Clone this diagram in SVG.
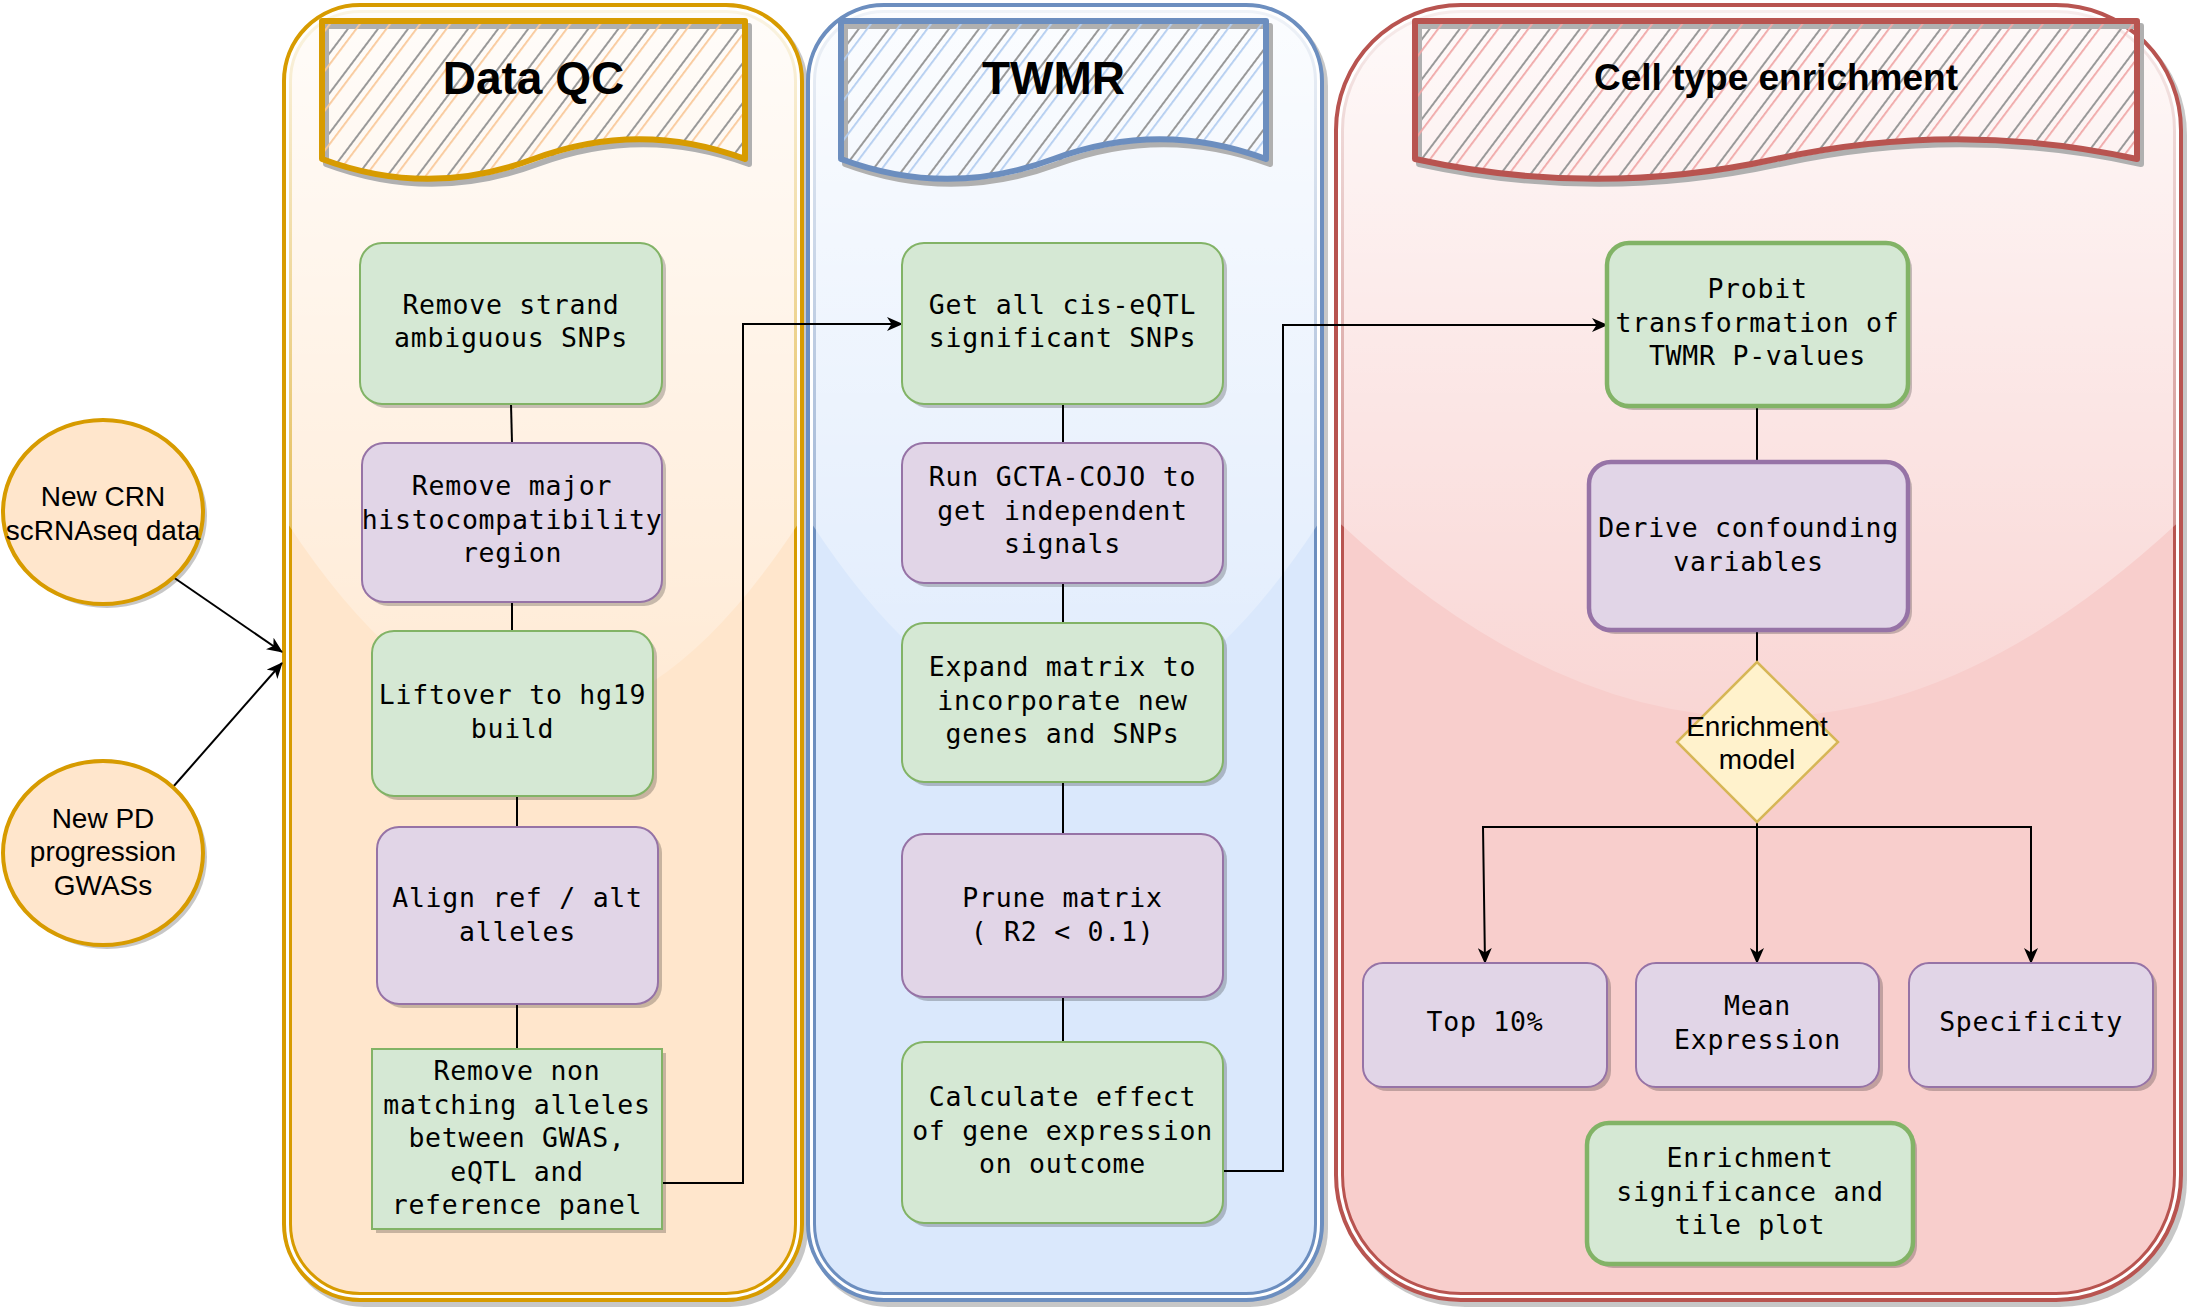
<svg xmlns="http://www.w3.org/2000/svg" width="2190" height="1312" viewBox="0 0 2190 1312">
<defs>
<style>
.sh{fill:#000;fill-opacity:.22}
.g{fill:#d5e8d4;stroke:#82b366;stroke-width:2}
.p{fill:#e1d5e7;stroke:#9673a6;stroke-width:2}
.gt{fill:#d5e8d4;stroke:#82b366;stroke-width:4.5}
.pt{fill:#e1d5e7;stroke:#9673a6;stroke-width:4.5}
.m{font-family:"DejaVu Sans Mono",monospace;font-size:26.5px;letter-spacing:0.75px;text-anchor:middle;fill:#000}
.s{font-family:"Liberation Sans",Arial,sans-serif;font-size:28px;text-anchor:middle;fill:#000}
.h{font-family:"Liberation Sans",Arial,sans-serif;font-weight:bold;text-anchor:middle;fill:#000}
.c{fill:none;stroke:#000;stroke-width:2}
.base{fill:#fff}
.glass{fill:url(#glass)}
</style>
<linearGradient id="glass" gradientUnits="userSpaceOnUse" x1="0" y1="3" x2="0" y2="782">
<stop offset="0" stop-color="#fff" stop-opacity="0.9"/>
<stop offset="1" stop-color="#fff" stop-opacity="0.1"/>
</linearGradient>
<pattern id="hG" patternUnits="userSpaceOnUse" width="24" height="24" patternTransform="rotate(37)"><rect x="0" y="0" width="2" height="24" fill="#999"/></pattern>
<pattern id="hQ" patternUnits="userSpaceOnUse" width="24" height="24" patternTransform="rotate(37) translate(13,0)"><rect x="0" y="0" width="1.8" height="24" fill="#f9c99a"/></pattern>
<pattern id="hT" patternUnits="userSpaceOnUse" width="24" height="24" patternTransform="rotate(37) translate(13,0)"><rect x="0" y="0" width="1.8" height="24" fill="#b3cdf0"/></pattern>
<pattern id="hC" patternUnits="userSpaceOnUse" width="24" height="24" patternTransform="rotate(37) translate(13,0)"><rect x="0" y="0" width="1.8" height="24" fill="#f0a8a8"/></pattern>
<marker id="arr" markerWidth="16" markerHeight="14" refX="15" refY="7" orient="auto" markerUnits="userSpaceOnUse"><path d="M0,0 L16,7 L0,14 L4.5,7 Z" fill="#000"/></marker>
</defs>

<g id="container-dataqc">
<rect class="sh" x="286" y="8" width="522" height="1299" rx="78"/>
<rect class="base" x="284" y="5" width="518" height="1295" rx="76"/>
<rect x="290.5" y="11.5" width="505" height="1282" rx="69.5" fill="#ffe6cc" stroke="#d79b00" stroke-width="3"/>
<path class="glass" d="M360,8 A73,73 0 0 0 287,81 L287,522.6 Q543,912.3 799,522.6 L799,81 A73,73 0 0 0 726,8 Z"/>
<rect x="284" y="5" width="518" height="1295" rx="76" fill="none" stroke="#d79b00" stroke-width="4"/>
</g>
<g id="container-twmr">
<rect class="sh" x="810" y="8" width="518" height="1299" rx="78"/>
<rect class="base" x="808" y="5" width="514" height="1295" rx="76"/>
<rect x="814.5" y="11.5" width="501" height="1282" rx="69.5" fill="#dae8fc" stroke="#6c8ebf" stroke-width="3"/>
<path class="glass" d="M884,8 A73,73 0 0 0 811,81 L811,522.6 Q1065,912.3 1319,522.6 L1319,81 A73,73 0 0 0 1246,8 Z"/>
<rect x="808" y="5" width="514" height="1295" rx="76" fill="none" stroke="#6c8ebf" stroke-width="4"/>
</g>
<g id="container-celltype">
<rect class="sh" x="1338" y="8" width="849" height="1299" rx="127"/>
<rect class="base" x="1336" y="5" width="845" height="1295" rx="125"/>
<rect x="1342.5" y="11.5" width="832" height="1282" rx="118.5" fill="#f8cecc" stroke="#b85450" stroke-width="3"/>
<path class="glass" d="M1461,8 A122,122 0 0 0 1339,130 L1339,522.6 Q1758.5,912.3 2178,522.6 L2178,130 A122,122 0 0 0 2056,8 Z"/>
<rect x="1336" y="5" width="845" height="1295" rx="125" fill="none" stroke="#b85450" stroke-width="4"/>
</g>

<g id="header-dataqc">
<path transform="translate(4,5)" d="M322,21 H745 V159 Q639.25,119.4 533.5,159 Q427.75,198.6 322,159 Z" fill="url(#hG)" stroke="#b0b0b0" stroke-width="6" stroke-linejoin="round"/>
<path d="M322,21 H745 V159 Q639.25,119.4 533.5,159 Q427.75,198.6 322,159 Z" fill="url(#hQ)" stroke="#d79b00" stroke-width="6" stroke-linejoin="round"/>
<text class="h" x="533.5" y="94" font-size="46">Data QC</text>
</g>
<g id="header-twmr">
<path transform="translate(4,5)" d="M841,21 H1266 V159 Q1159.75,119.4 1053.5,159 Q947.25,198.6 841,159 Z" fill="url(#hG)" stroke="#b0b0b0" stroke-width="6" stroke-linejoin="round"/>
<path d="M841,21 H1266 V159 Q1159.75,119.4 1053.5,159 Q947.25,198.6 841,159 Z" fill="url(#hT)" stroke="#6c8ebf" stroke-width="6" stroke-linejoin="round"/>
<text class="h" x="1053.5" y="94" font-size="46">TWMR</text>
</g>
<g id="header-celltype">
<path transform="translate(4,5)" d="M1415,21 H2137 V159 Q1956.5,119.4 1776,159 Q1595.5,198.6 1415,159 Z" fill="url(#hG)" stroke="#b0b0b0" stroke-width="6" stroke-linejoin="round"/>
<path d="M1415,21 H2137 V159 Q1956.5,119.4 1776,159 Q1595.5,198.6 1415,159 Z" fill="url(#hC)" stroke="#b85450" stroke-width="6" stroke-linejoin="round"/>
<text class="h" x="1776" y="90" font-size="37">Cell type enrichment</text>
</g>

<g id="connectors">
<path class="c" d="M173,577 L282,652" marker-end="url(#arr)"/>
<path class="c" d="M173,787 L282,663" marker-end="url(#arr)"/>
<path class="c" d="M511,404 L512,443"/>
<path class="c" d="M512,602 L512,631"/>
<path class="c" d="M517,796 L517,827"/>
<path class="c" d="M517,1004 L517,1049"/>
<path class="c" d="M662,1183 H743 V324 H902" marker-end="url(#arr)"/>
<path class="c" d="M1063,404 V443"/>
<path class="c" d="M1063,583 V623"/>
<path class="c" d="M1063,782 V834"/>
<path class="c" d="M1063,997 V1042"/>
<path class="c" d="M1223,1171 H1283 V325 H1607" marker-end="url(#arr)"/>
<path class="c" d="M1757,406 V462"/>
<path class="c" d="M1757,630 V662"/>
<path class="c" d="M1757,822 V827 H1483 L1485,963" marker-end="url(#arr)"/>
<path class="c" d="M1757,822 V963" marker-end="url(#arr)" stroke-width="2.5"/>
<path class="c" d="M1757,827 H2031 V963" marker-end="url(#arr)"/>
</g>

<g id="node-crn">
<ellipse class="sh" cx="107" cy="516" rx="100" ry="92"/>
<ellipse cx="103" cy="512" rx="100" ry="92" fill="#ffe6cc" stroke="#d79b00" stroke-width="4"/>
<text class="s" x="103" y="506">New CRN</text>
<text class="s" x="103" y="539.5">scRNAseq data</text>
</g>
<g id="node-pd">
<ellipse class="sh" cx="107" cy="857" rx="100" ry="92"/>
<ellipse cx="103" cy="853" rx="100" ry="92" fill="#ffe6cc" stroke="#d79b00" stroke-width="4"/>
<text class="s" x="103" y="828">New PD</text>
<text class="s" x="103" y="861">progression</text>
<text class="s" x="103" y="895">GWASs</text>
</g>

<g id="node-strand">
<rect class="sh" x="364" y="247" width="302" height="161" rx="22"/>
<rect class="g" x="360" y="243" width="302" height="161" rx="22"/>
<text class="m" x="511" y="313.75">Remove strand</text>
<text class="m" x="511" y="347.25">ambiguous SNPs</text>
</g>
<g id="node-mhc">
<rect class="sh" x="366" y="447" width="300" height="159" rx="22"/>
<rect class="p" x="362" y="443" width="300" height="159" rx="22"/>
<text class="m" x="512" y="495">Remove major</text>
<text class="m" x="512" y="528.5">histocompatibility</text>
<text class="m" x="512" y="562">region</text>
</g>
<g id="node-liftover">
<rect class="sh" x="376" y="635" width="281" height="165" rx="22"/>
<rect class="g" x="372" y="631" width="281" height="165" rx="22"/>
<text class="m" x="512.5" y="704">Liftover to hg19</text>
<text class="m" x="512.5" y="737.5">build</text>
</g>
<g id="node-align">
<rect class="sh" x="381" y="831" width="281" height="177" rx="22"/>
<rect class="p" x="377" y="827" width="281" height="177" rx="22"/>
<text class="m" x="517.5" y="907">Align ref / alt</text>
<text class="m" x="517.5" y="940.5">alleles</text>
</g>
<g id="node-nonmatch">
<rect class="sh" x="376" y="1053" width="290" height="180"/>
<rect class="g" x="372" y="1049" width="290" height="180"/>
<text class="m" x="517" y="1080">Remove non</text>
<text class="m" x="517" y="1113.5">matching alleles</text>
<text class="m" x="517" y="1147">between GWAS,</text>
<text class="m" x="517" y="1180.5">eQTL and</text>
<text class="m" x="517" y="1214">reference panel</text>
</g>

<g id="node-ciseqtl">
<rect class="sh" x="906" y="247" width="321" height="161" rx="22"/>
<rect class="g" x="902" y="243" width="321" height="161" rx="22"/>
<text class="m" x="1062.5" y="313.75">Get all cis-eQTL</text>
<text class="m" x="1062.5" y="347.25">significant SNPs</text>
</g>
<g id="node-cojo">
<rect class="sh" x="906" y="447" width="321" height="140" rx="22"/>
<rect class="p" x="902" y="443" width="321" height="140" rx="22"/>
<text class="m" x="1062.5" y="486">Run GCTA-COJO to</text>
<text class="m" x="1062.5" y="519.5">get independent</text>
<text class="m" x="1062.5" y="553">signals</text>
</g>
<g id="node-expand">
<rect class="sh" x="906" y="627" width="321" height="159" rx="22"/>
<rect class="g" x="902" y="623" width="321" height="159" rx="22"/>
<text class="m" x="1062.5" y="676">Expand matrix to</text>
<text class="m" x="1062.5" y="709.5">incorporate new</text>
<text class="m" x="1062.5" y="743">genes and SNPs</text>
</g>
<g id="node-prune">
<rect class="sh" x="906" y="838" width="321" height="163" rx="22"/>
<rect class="p" x="902" y="834" width="321" height="163" rx="22"/>
<text class="m" x="1062.5" y="907">Prune matrix</text>
<text class="m" x="1062.5" y="940.5">( R2 &lt; 0.1)</text>
</g>
<g id="node-effect">
<rect class="sh" x="906" y="1046" width="321" height="181" rx="22"/>
<rect class="g" x="902" y="1042" width="321" height="181" rx="22"/>
<text class="m" x="1062.5" y="1106">Calculate effect</text>
<text class="m" x="1062.5" y="1139.5">of gene expression</text>
<text class="m" x="1062.5" y="1173">on outcome</text>
</g>

<g id="node-probit">
<rect class="sh" x="1611" y="247" width="301" height="163" rx="22"/>
<rect class="gt" x="1607" y="243" width="301" height="163" rx="22"/>
<text class="m" x="1757.5" y="298">Probit</text>
<text class="m" x="1757.5" y="331.5">transformation of</text>
<text class="m" x="1757.5" y="365">TWMR P-values</text>
</g>
<g id="node-confound">
<rect class="sh" x="1593" y="466" width="319" height="168" rx="22"/>
<rect class="pt" x="1589" y="462" width="319" height="168" rx="22"/>
<text class="m" x="1748.5" y="537">Derive confounding</text>
<text class="m" x="1748.5" y="570.5">variables</text>
</g>
<g id="node-model">
<polygon points="1757,662 1838,742 1757,822 1677,742" fill="#fff2cc" stroke="#d6b656" stroke-width="2.5"/>
<text class="s" x="1757" y="736">Enrichment</text>
<text class="s" x="1757" y="769">model</text>
</g>
<g id="node-top10">
<rect class="sh" x="1367" y="967" width="244" height="124" rx="20"/>
<rect class="p" x="1363" y="963" width="244" height="124" rx="20"/>
<text class="m" x="1485" y="1031">Top 10%</text>
</g>
<g id="node-mean">
<rect class="sh" x="1640" y="967" width="243" height="124" rx="20"/>
<rect class="p" x="1636" y="963" width="243" height="124" rx="20"/>
<text class="m" x="1757.5" y="1015">Mean</text>
<text class="m" x="1757.5" y="1048.5">Expression</text>
</g>
<g id="node-specificity">
<rect class="sh" x="1913" y="967" width="244" height="124" rx="20"/>
<rect class="p" x="1909" y="963" width="244" height="124" rx="20"/>
<text class="m" x="2031" y="1031">Specificity</text>
</g>
<g id="node-tileplot">
<rect class="sh" x="1591" y="1127" width="326" height="141" rx="22"/>
<rect class="gt" x="1587" y="1123" width="326" height="141" rx="22"/>
<text class="m" x="1750" y="1167">Enrichment</text>
<text class="m" x="1750" y="1200.5">significance and</text>
<text class="m" x="1750" y="1234">tile plot</text>
</g>
</svg>
